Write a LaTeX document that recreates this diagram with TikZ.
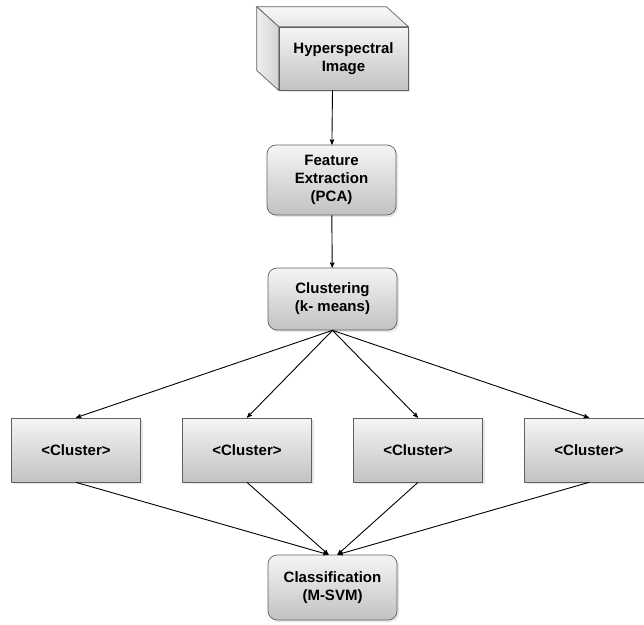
\documentclass[tikz,border=0pt]{standalone}
\usepackage{fontspec}
\setmainfont{Liberation Sans}
\usetikzlibrary{arrows,positioning,calc,shadows}

\begin{document}
\begin{tikzpicture}[->, >=stealth', x=1pt, y=-1pt, line width=0.9pt, node distance=171pt]
	\tikzstyle{every node}=[font=\fontsize{15}{18}\selectfont\bfseries, align=center, text=black]
	\tikzstyle{box}=[draw=gray!75!black, line width=0.7pt, top color=gray!8, bottom color=gray!48, minimum width=129pt, minimum height=64pt, drop shadow={opacity=0.2, shadow xshift=2pt, shadow yshift=-2pt}]
	\tikzstyle{rbox}=[box, rounded corners=9pt]
	\tikzstyle{side}=[-, draw=gray!75!black, line width=0.7pt]
	\useasboundingbox (0,0) rectangle (644,624);
	% input cube
	\node[box, minimum height=63pt]    (img) at (343.5,58.5)  {Hyperspectral\\Image};
	\draw[side, top color=gray!5, bottom color=gray!20] (img.north west) -- ++(-22,-20) -- ($(img.north east)+(-22,-20)$) -- (img.north east) -- cycle;
	\draw[side, left color=gray!12, right color=gray!35] (img.north west) -- ++(-22,-20) -- ($(img.south west)+(-22,-20)$) -- (img.south west) -- cycle;
	% processing steps
	\node[rbox, minimum height=70pt]   (feat) at (331.5,180)  {Feature\\Extraction\\(PCA)};
	\node[rbox, minimum height=62pt]   (clus) at (332.5,299)  {Clustering\\(k- means)};
	\node[box]      (c1) at (76,450)        {<Cluster>};
	\node[box]      (c2)[right of=c1]       {<Cluster>};
	\node[box]      (c3)[right of=c2]       {<Cluster>};
	\node[box]      (c4)[right of=c3]       {<Cluster>};
	\node[rbox, minimum height=65pt]   (cls) at (332.5,587.5) {Classification\\(M-SVM)};
	\coordinate (inL) at ([xshift=-4pt]cls.north);
	\coordinate (inR) at ([xshift=5pt]cls.north);
	\path
	([xshift=-11pt]img.south) edge  (feat)
	(feat) edge                     (clus)
	(clus.south) edge               (c1.north)
	(clus.south) edge               (c2.north)
	(clus.south) edge               (c3.north)
	(clus.south) edge               (c4.north)
	(c1.south) edge                 (inL)
	(c2.south) edge                 (inL)
	(c3.south) edge                 (inR)
	(c4.south) edge                 (inR);
\end{tikzpicture}
\end{document}
